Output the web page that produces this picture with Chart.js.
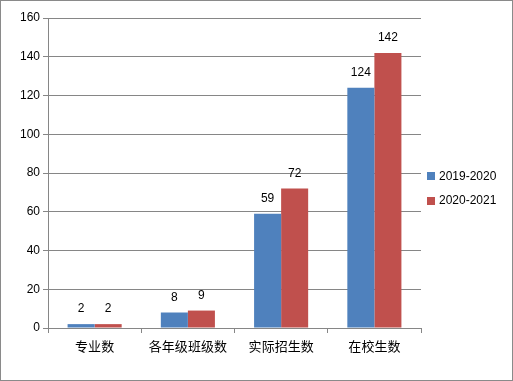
<!DOCTYPE html>
<html>
<head>
<meta charset="utf-8">
<script src="https://cdn.jsdelivr.net/npm/chart.js@4/dist/chart.umd.min.js"></script>
<style>
html,body{margin:0;padding:0;background:#fff;}
canvas{display:block;}
</style>
</head>
<body>
<canvas id="c" width="513" height="381"></canvas>
<script>
const categories = ['专业数', '各年级班级数', '实际招生数', '在校生数'];
const series2019 = [2, 8, 59, 124];
const series2020 = [2, 9, 72, 142];
const seriesNames = ['2019-2020', '2020-2021'];
const yTicks = [0, 20, 40, 60, 80, 100, 120, 140, 160];

const BLUE = '#4F81BD', RED = '#C0504D', GRID = '#868686';
const NUM_FONT = '12px "Liberation Sans", Arial, sans-serif';

const frame = {
  id: 'frame',
  beforeDraw(chart) {
    const ctx = chart.ctx;
    ctx.save();
    ctx.fillStyle = '#fff';
    ctx.fillRect(0, 0, chart.width, chart.height);
    ctx.strokeStyle = '#8a8a8a';
    ctx.lineWidth = 1;
    ctx.strokeRect(0.5, 0.5, chart.width - 1, chart.height - 1);
    ctx.restore();
  }
};

const labels = {
  id: 'labels',
  afterDatasetsDraw(chart) {
    const ctx = chart.ctx;
    ctx.save();
    ctx.font = NUM_FONT;
    ctx.fillStyle = '#000';
    ctx.textAlign = 'center';
    ctx.textBaseline = 'middle';
    chart.data.datasets.forEach((ds, di) => {
      chart.getDatasetMeta(di).data.forEach((bar, i) => {
        ctx.fillText(String(ds.data[i]), bar.x, bar.y - 15);
      });
    });
    ctx.restore();
  }
};

const legend = {
  id: 'customLegend',
  afterDraw(chart) {
    const ctx = chart.ctx;
    const x = chart.chartArea.right + 6;
    const yc = chart.height / 2 - 2;
    ctx.save();
    ctx.font = NUM_FONT;
    ctx.textBaseline = 'middle';
    ctx.textAlign = 'left';
    chart.data.datasets.forEach((ds, i) => {
      const y = yc + (i - 0.5) * 24.5;
      ctx.fillStyle = ds.backgroundColor;
      ctx.fillRect(x, Math.round(y - 4), 8, 8);
      ctx.fillStyle = '#000';
      ctx.fillText(ds.label, x + 12, y);
    });
    ctx.restore();
  }
};

new Chart(document.getElementById('c'), {
  type: 'bar',
  data: {
    labels: categories,
    datasets: [
      { label: seriesNames[0], data: series2019, backgroundColor: BLUE },
      { label: seriesNames[1], data: series2020, backgroundColor: RED }
    ]
  },
  options: {
    responsive: false,
    animation: false,
    devicePixelRatio: 1,
    layout: { padding: { left: 0, top: 18, right: 92, bottom: 0 } },
    datasets: { bar: { categoryPercentage: 0.58, barPercentage: 1.0 } },
    plugins: { legend: { display: false }, tooltip: { enabled: false } },
    scales: {
      x: {
        offset: true,
        grid: { offset: true, drawOnChartArea: false, drawTicks: true, tickLength: 5, color: GRID },
        border: { display: true, color: GRID },
        ticks: { color: '#000', padding: 5, font: { family: '"Noto Sans CJK SC", sans-serif', size: 13 } },
        afterFit(s) { s.height = 53; }
      },
      y: {
        min: 0, max: 160,
        afterBuildTicks(s) { s.ticks = yTicks.map(v => ({ value: v })); },
        grid: { color: GRID, tickLength: 5, drawTicks: true },
        border: { display: true, color: GRID },
        ticks: { color: '#000', padding: 3, font: { family: '"Liberation Sans", Arial, sans-serif', size: 12 } },
        afterFit(s) { s.width = 48; }
      }
    }
  },
  plugins: [frame, labels, legend]
});
</script>
</body>
</html>
